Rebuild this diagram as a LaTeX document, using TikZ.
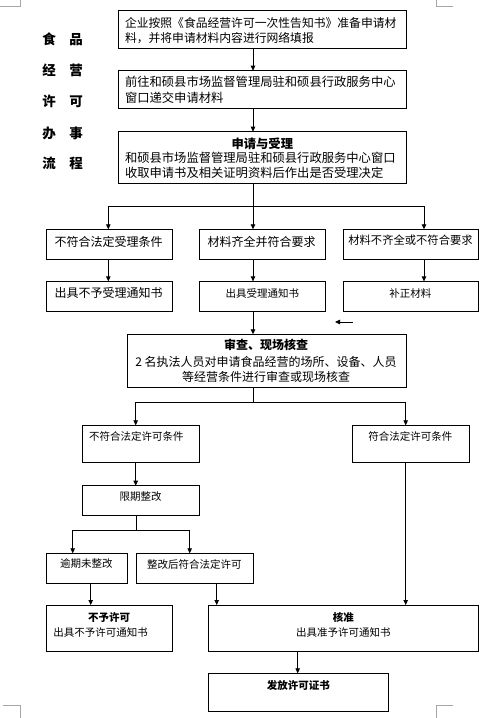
\documentclass[tikz,border=0pt]{standalone}
\usepackage{fontspec}
\setmainfont{Noto Sans CJK SC}
\usetikzlibrary{arrows.meta}
\tikzset{
  bx/.style={draw, line width=1pt, inner sep=0pt, outer sep=0pt},
  tx/.style={inner sep=0pt, outer sep=0pt},
  arr/.style={line width=0.8pt, -{Triangle[length=5pt,width=4.5pt]}},
  ln/.style={line width=0.8pt},
  crn/.style={line width=0.8pt, draw=black!35}
}
\newcommand\fa{\fontsize{12.3}{15.6}\selectfont}
\newcommand\fb{\fontsize{11.8}{15.6}\selectfont}
\newcommand\fc{\fontsize{12}{14}\selectfont}
\newcommand\fd{\fontsize{11.3}{14}\selectfont}
\newcommand\fe{\fontsize{10.5}{14}\selectfont}
\begin{document}
\begin{tikzpicture}[x=1pt,y=-1pt]
\useasboundingbox (0,0) rectangle (492,718);
% corner marks
\draw[crn] (20,0) -- (20,6) -- (0,6);
\draw[crn] (436,0) -- (436,6) -- (453,6);
\draw[crn] (3,705) -- (20,705) -- (20,718);
\draw[crn] (453,705) -- (436,705) -- (436,718);
% title
\begin{scope}[every node/.style={tx, font=\fontsize{13.5}{14}\selectfont\bfseries}]
\node (t1) at (62.5,39) {食\hspace{13.5pt}品};
\node (t2) at (62.5,70) {经\hspace{13.5pt}营};
\node (t3) at (62.5,101.7) {许\hspace{13.5pt}可};
\node (t4) at (62.5,133) {办\hspace{13.5pt}事};
\node (t5) at (62.5,163.3) {流\hspace{13.5pt}程};
\end{scope}
% boxes
\node[bx, minimum width=288.4pt, minimum height=37.6pt] (b1) at (262.5,29.5) {};
\node[bx, minimum width=288.4pt, minimum height=37.6pt] (b2) at (262.5,89.5) {};
\node[bx, minimum width=288.4pt, minimum height=51.6pt] (b3) at (262.5,157.5) {};
\node[bx, minimum width=126pt, minimum height=30pt] (L1) at (109.3,244.3) {};
\node[bx, minimum width=126pt, minimum height=30pt] (M1) at (262.3,244.3) {};
\node[bx, minimum width=135pt, minimum height=30pt] (R1) at (410.8,244.3) {};
\node[bx, minimum width=126pt, minimum height=29.7pt] (L2) at (109.3,296.2) {};
\node[bx, minimum width=126pt, minimum height=29.7pt] (M2) at (262.3,296.2) {};
\node[bx, minimum width=135pt, minimum height=29.7pt] (R2) at (410.8,296.2) {};
\node[bx, minimum width=279pt, minimum height=53pt] (b4) at (267.2,360.8) {};
\node[bx, minimum width=117pt, minimum height=37pt] (C1) at (140.8,443.8) {};
\node[bx, minimum width=117pt, minimum height=37pt] (C2) at (410.8,443.8) {};
\node[bx, minimum width=117pt, minimum height=29.6pt] (D) at (140.8,500.5) {};
\node[bx, minimum width=81.4pt, minimum height=30pt] (E1) at (87,568.3) {};
\node[bx, minimum width=117pt, minimum height=30pt] (E2) at (194.8,568.3) {};
\node[bx, minimum width=126pt, minimum height=46pt] (F1) at (109.3,628) {};
\node[bx, minimum width=270pt, minimum height=46pt] (F2) at (343.3,628) {};
\node[bx, minimum width=180pt, minimum height=38pt] (G) at (298.3,692.3) {};
% texts
\node[tx, anchor=west, align=left, font=\fb] (b1t) at (125,30.5) {企业按照《食品经营许可一次性告知书》准备申请材\\料，并将申请材料内容进行网络填报};
\node[tx, anchor=west, align=left, font=\fa] (b2t) at (125,90) {前往和硕县市场监督管理局驻和硕县行政服务中心\\窗口递交申请材料};
\node[tx, font=\fa\bfseries] (b3h) at (262.3,143.3) {申请与受理};
\node[tx, anchor=west, align=left, font=\fa] (b3t) at (125,165.5) {和硕县市场监督管理局驻和硕县行政服务中心窗口\\收取申请书及相关证明资料后作出是否受理决定};
\node[tx, font=\fc] (L1t) at (108.7,241.7) {不符合法定受理条件};
\node[tx, font=\fc] (M1t) at (261.7,241.7) {材料齐全并符合要求};
\node[tx, font=\fd] (R1t) at (410.5,240.5) {材料不齐全或不符合要求};
\node[tx, font=\fc] (L2t) at (108.7,293.3) {出具不予受理通知书};
\node[tx, font=\fe] (M2t) at (262.3,293.5) {出具受理通知书};
\node[tx, font=\fe] (R2t) at (410.3,293.5) {补正材料};
\node[tx, font=\fc\bfseries] (b4h) at (266.2,345) {审查、现场核查};
\node[tx, align=center, font=\fontsize{12}{14.4}\selectfont] (b4t) at (266,369.5) {2 名执法人员对申请食品经营的场所、设备、人员\\等经营条件进行审查或现场核查};
\node[tx, font=\fe] (C1t) at (136.3,436.7) {不符合法定许可条件};
\node[tx, font=\fe] (C2t) at (410.3,436.7) {符合法定许可条件};
\node[tx, font=\fe] (Dt) at (140.7,496.7) {限期整改};
\node[tx, font=\fe] (E1t) at (86.3,564) {逾期未整改};
\node[tx, font=\fe] (E2t) at (194.3,564) {整改后符合法定许可};
\node[tx, font=\fe\bfseries] (F1h) at (109,617.7) {不予许可};
\node[tx, font=\fe] (F1t) at (100.5,632.3) {出具不予许可通知书};
\node[tx, font=\fe\bfseries] (F2h) at (343.3,617.7) {核准};
\node[tx, font=\fe] (F2t) at (343.3,632.3) {出具准予许可通知书};
\node[tx, font=\fe\bfseries] (Gt) at (298.3,685) {发放许可证书};
% column coordinates
\coordinate (xm) at (253,0);
\coordinate (xl) at (108.3,0);
\coordinate (xr) at (424,0);
\coordinate (xa) at (135.7,0);
\coordinate (xb) at (405.7,0);
\coordinate (xc) at (72.7,0);
\coordinate (xd) at (189.7,0);
\coordinate (xe) at (90.7,0);
\coordinate (xf) at (216.7,0);
\coordinate (xg) at (297.7,0);
\coordinate (j1) at (253,206);
\coordinate (j2) at (253.3,402.3);
\coordinate (j3) at (136.3,530.3);
\coordinate (o1) at (352.7,322);
\coordinate (o2) at (335,322);
% connectors
\draw[arr] (b1.south -| xm) -- (b2.north -| xm);
\draw[arr] (b2.south -| xm) -- (b3.north -| xm);
\draw[ln] (b3.south -| xm) -- (j1);
\draw[arr] (j1) -| (L1.north -| xl);
\draw[arr] (j1) -- (M1.north -| xm);
\draw[arr] (j1) -| (R1.north -| xr);
\draw[arr] (L1.south -| xl) -- (L2.north -| xl);
\draw[arr] (M1.south -| xm) -- (M2.north -| xm);
\draw[arr] (R1.south -| xr) -- (R2.north -| xr);
\draw[arr] (o1) -- (o2);
\draw[arr] (M2.south -| xm) -- (b4.north -| xm);
\draw[ln] (b4.south -| j2) -- (j2);
\draw[arr] (j2) -| (C1.north -| xa);
\draw[arr] (j2) -| (C2.north -| xb);
\draw[arr] (C1.south -| xa) -- (D.north -| xa);
\draw[ln] (D.south -| j3) -- (j3);
\draw[arr] (j3) -| (E1.north -| xc);
\draw[arr] (j3) -| (E2.north -| xd);
\draw[arr] (E1.south -| xe) -- (F1.north -| xe);
\draw[arr] (E2.south -| xf) -- (F2.north -| xf);
\draw[arr] (C2.south -| xb) -- (F2.north -| xb);
\draw[arr] (F2.south -| xg) -- (G.north -| xg);
\end{tikzpicture}
\end{document}
